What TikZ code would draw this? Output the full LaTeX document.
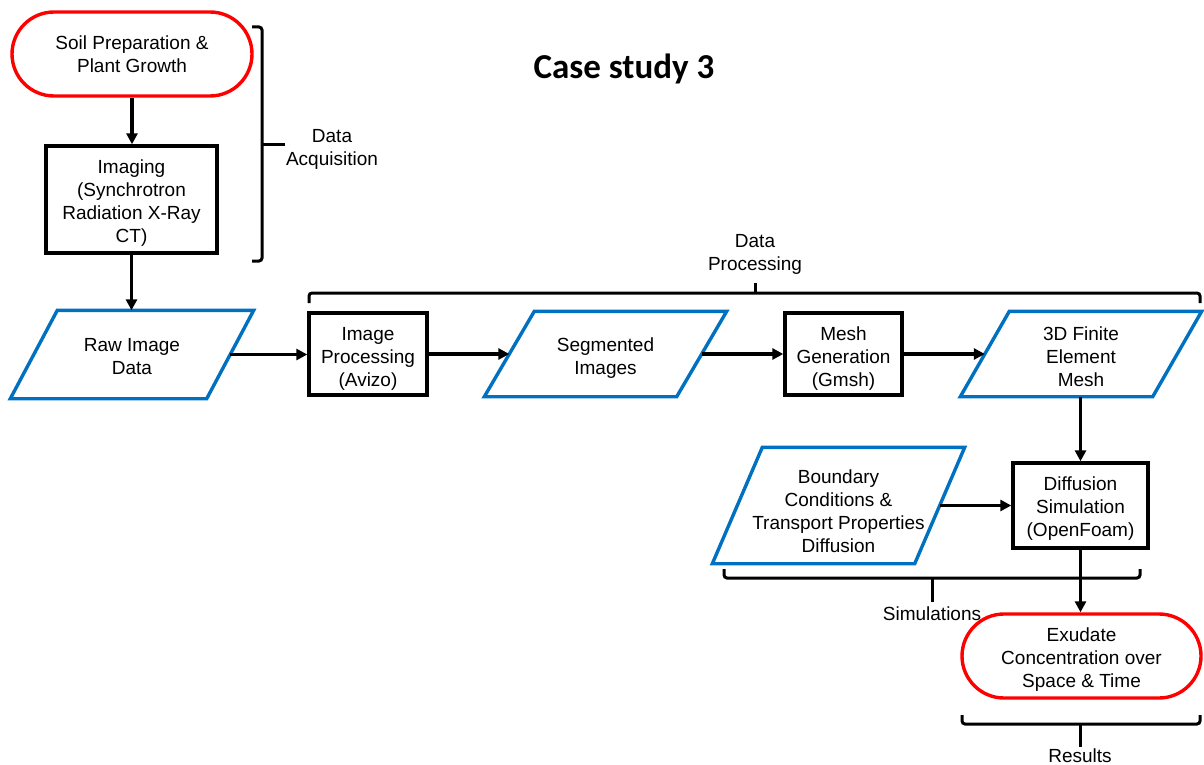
\documentclass[tikz,border=0pt]{standalone}
\usepackage{fontspec}
\setmainfont{Liberation Sans}
\newfontfamily\titlefont{Carlito}
\usetikzlibrary{arrows.meta,calc}
\definecolor{boxred}{RGB}{255,0,0}
\definecolor{boxblue}{RGB}{0,112,192}
\newcommand\drawpara[2]{%
  \draw[dataline] ($(#1.south west)+(-#2/2,0)$) -- ($(#1.north west)+(#2/2,0)$)
    -- ($(#1.north east)+(#2/2,0)$) -- ($(#1.south east)+(-#2/2,0)$) -- cycle;}
\begin{document}
\begin{tikzpicture}[x=1pt,y=-1pt,
 every node/.style={font=\fontsize{19}{23}\selectfont, align=center, inner sep=0pt},
 term/.style={draw=boxred, line width=3.4pt, rounded corners=42pt, minimum width=240pt, minimum height=84pt},
 proc/.style={draw=black, line width=3.4pt},
 databody/.style={draw=none, outer sep=1.7pt},
 dataline/.style={draw=boxblue, line width=3.4pt},
 arr/.style={line width=3.2pt, -{Triangle[length=11pt,width=11pt]}},
 brace/.style={line width=3pt, rounded corners=3pt},
]
\useasboundingbox (0,0) rectangle (1204,765);
% title
\node[font=\titlefont\bfseries\fontsize{35}{40}\selectfont] (title) at (624,69) {Case study 3};
% nodes
\node[term] (soil) at (132,54) {Soil Preparation \&\\Plant Growth};
\node[proc, minimum width=171pt, minimum height=107pt] (img) at (131.5,199.5) {};
\node (imgt) at (131.5,203) {Imaging\\(Synchrotron\\Radiation X-Ray\\CT)};
\node[databody, minimum width=193pt, minimum height=85pt] (raw) at (132,354.5) {};
\drawpara{raw}{47}
\node (rawt) at (132,357) {Raw Image\\Data};
\node[proc, minimum width=118pt, minimum height=82pt] (ip) at (368,354) {};
\node (ipt) at (368,358.5) {Image\\Processing\\(Avizo)};
\node[databody, minimum width=189pt, minimum height=82pt] (seg) at (605.5,354) {};
\drawpara{seg}{50}
\node (segt) at (605.5,358) {Segmented\\Images};
\node[proc, minimum width=117pt, minimum height=82pt] (mesh) at (843.5,354) {};
\node (mesht) at (843.5,358.5) {Mesh\\Generation\\(Gmsh)};
\node[databody, minimum width=189pt, minimum height=82pt] (fem) at (1081,354) {};
\drawpara{fem}{49}
\node (femt) at (1081,356.5) {3D Finite\\Element\\Mesh};
\node[databody, minimum width=199pt, minimum height=113pt] (bc) at (838.5,505.5) {};
\drawpara{bc}{50}
\node (bct) at (838.5,511) {Boundary\\Conditions \&\\Transport Properties\\Diffusion};
\node[proc, minimum width=135pt, minimum height=85pt] (diff) at (1080.5,505.5) {};
\node (difft) at (1080.5,508.5) {Diffusion\\Simulation\\(OpenFoam)};
\node[term, minimum width=239pt] (exu) at (1081.5,656) {};
\node (exut) at (1081.5,660) {Exudate\\Concentration over\\Space \& Time};
% labels
\node (acq) at (332,149) {Data\\Acquisition};
\node (proclbl) at (755,254.5) {Data\\Processing};
\node (simlbl) at (932,614) {Simulations};
\node (reslbl) at (1080,756) {Results};
% braces
\draw[brace] (252,27) -- (262,27) -- (262,261) -- (252,261);
\draw[brace] (262,144) -- (285,144);
\draw[brace] (309,303) -- (309,293) -- (1200,293) -- (1200,303);
\draw[brace] (755,293) -- (755,283);
\draw[brace] (724,569) -- (724,578) -- (1140,578) -- (1140,569);
\draw[brace] (932,578) -- (932,602);
\draw[brace] (962,715) -- (962,724) -- (1200,724) -- (1200,715);
\draw[brace] (1080,724) -- (1080,747);
% arrows
\draw[arr] (soil.south) -- (soil.south |- img.north);
\draw[arr] (img.south) -- (img.south |- raw.north);
\draw[arr] (raw.east) -- (ip.west |- raw.east);
\draw[arr] (ip.east) -- (seg.west);
\draw[arr] (seg.east) -- (mesh.west);
\draw[arr] (mesh.east) -- (fem.west);
\draw[arr] (diff.north |- fem.south) -- (diff.north);
\draw[arr] (bc.east) -- (diff.west);
\draw[arr] (diff.south) -- (diff.south |- exu.north);
\end{tikzpicture}
\end{document}
